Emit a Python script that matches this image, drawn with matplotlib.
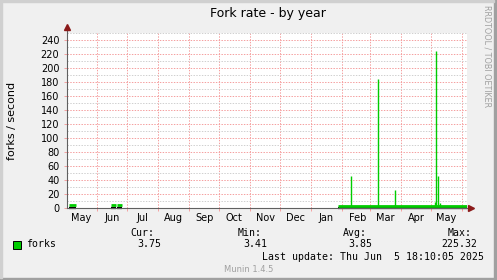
import matplotlib
matplotlib.use("Agg")
import matplotlib.pyplot as plt
import matplotlib.dates as mdates
from matplotlib.patches import Rectangle
from matplotlib.ticker import MultipleLocator, NullFormatter
import pandas as pd

# ---- data ----
x_start = "2024-05-01 18:10:05"
x_end = "2025-06-05 18:10:05"
seg_start = ["2024-05-04 00:00", "2024-06-15 00:00", "2024-06-21 00:00", "2025-01-28 00:00"]
seg_end = ["2024-05-11 00:00", "2024-06-20 00:00", "2024-06-26 00:00", "2025-06-05 18:00"]
seg_value = [4.5, 4.5, 4.5, 3.9]
spike_dates = ["2025-02-10 06:00", "2025-03-09 06:00", "2025-03-25 12:00",
               "2025-05-05 06:00", "2025-05-06 06:00", "2025-05-07 12:00",
               "2025-05-10 06:00"]
spike_values = [46, 185, 26, 9, 225.32, 46, 7]
y_ticks = list(range(0, 241, 20))
legend_name = "forks"
stat_names = ["Cur:", "Min:", "Avg:", "Max:"]
stat_values = ["3.75", "3.41", "3.85", "225.32"]
title = "Fork rate - by year"
ylabel = "forks / second"
last_update = "Last update: Thu Jun  5 18:10:05 2025"
footer = "Munin 1.4.5"
watermark = "RRDTOOL / TOBI OETIKER"

GREEN = "#00cc00"
MAJ = "#f5a0a0"
MIN = "#d0d0d0"
AX = "#606060"
ARROW = "#8b1a1a"

W, H = 497, 280
fig = plt.figure(figsize=(W / 100, H / 100), dpi=100)
fig.patch.set_facecolor("#f0f0f0")

L, T, R, B = 67, 33.3, 467, 208.3
ax = fig.add_axes([L / W, 1 - B / H, (R - L) / W, (B - T) / H])
ax.set_facecolor("white")

xs = pd.to_datetime(seg_start, format="%Y-%m-%d %H:%M")
xe = pd.to_datetime(seg_end, format="%Y-%m-%d %H:%M")
sd = pd.to_datetime(spike_dates, format="%Y-%m-%d %H:%M")

# grid
ax.set_xlim(pd.Timestamp(x_start), pd.Timestamp(x_end))
ax.set_ylim(0, 250)
ax.yaxis.set_major_locator(MultipleLocator(20))
ax.yaxis.set_minor_locator(MultipleLocator(10))
ax.set_yticks(y_ticks)
ax.xaxis.set_major_locator(mdates.MonthLocator())
ax.xaxis.set_major_formatter(NullFormatter())
ax.xaxis.set_minor_locator(mdates.MonthLocator(bymonthday=16))
ax.xaxis.set_minor_formatter(mdates.DateFormatter("%b"))

ax.grid(True, which="major", axis="both", color=MAJ, linestyle=(0, (1.4, 1.4)), linewidth=0.72, zorder=0)
ax.grid(True, which="minor", axis="y", color=MIN, linestyle=(0, (1.4, 1.4)), linewidth=0.72, zorder=0)
ax.set_axisbelow(True)

ax.tick_params(axis="y", which="major", length=2, width=0.7, color=MAJ, pad=3.5, labelsize=7)
ax.tick_params(axis="y", which="minor", length=0)
ax.tick_params(axis="x", which="major", length=2, width=0.7, color=MAJ)
ax.tick_params(axis="x", which="minor", length=0, pad=3.5, labelsize=7)

for s in ["top", "right", "left", "bottom"]:
    ax.spines[s].set_visible(False)

# data
ax.hlines([0] * len(seg_start), xs, xe, color="black", linewidth=1.6, zorder=3, clip_on=False)
ax.hlines(seg_value, xs, xe, color=GREEN, linewidth=2.0, zorder=4)
ax.vlines(sd, [seg_value[-1]] * len(sd), spike_values, color=GREEN, linewidth=1.0, zorder=4)

# axes lines with arrows
ax.plot([0, 0], [0, 1 + 5 / 175], transform=ax.transAxes, color=AX, lw=0.8, clip_on=False, zorder=5)
ax.plot([0, 1 + 2 / 400], [0, 0], transform=ax.transAxes, color=AX, lw=0.8, clip_on=False, zorder=5)
ax.plot([0], [1 + 6 / 175], marker="^", markersize=4, color=ARROW, transform=ax.transAxes, clip_on=False, zorder=6)
ax.plot([1 + 4 / 400], [0], marker=">", markersize=4, color=ARROW, transform=ax.transAxes, clip_on=False, zorder=6)

def ftxt(x, y, s, **kw):
    fig.text(x / W, 1 - y / H, s, **kw)

ftxt(267.5, 14, title, ha="center", va="center", fontsize=9, family="DejaVu Sans")
ftxt(12, 120.5, ylabel, ha="center", va="center", rotation=90, fontsize=8, family="DejaVu Sans")
ftxt(487, 5, watermark, ha="center", va="top", rotation=-90, fontsize=5.8, color="#a0a0a0", family="DejaVu Sans")

mono = dict(family="DejaVu Sans Mono", fontsize=7.1, va="center")
fig.patches.append(Rectangle((13 / W, 1 - 248.7 / H), 8 / W, 8 / H, transform=fig.transFigure,
                             facecolor=GREEN, edgecolor="black", linewidth=0.7))
ftxt(26, 244.3, legend_name, **mono)
name_x = [130.5, 237.2, 342.8, 447.2]
val_x = [137.2, 242.8, 347.8, 441.2]
for nx, n in zip(name_x, stat_names):
    ftxt(nx, 232.7, n, **mono)
for vx, v in zip(val_x, stat_values):
    ftxt(vx, 244.3, v, **mono)
ftxt(483.5, 256.7, last_update, ha="right", family="DejaVu Sans Mono", fontsize=7.1, va="center")
ftxt(249, 269.3, footer, ha="center", va="center", fontsize=6, color="#a0a0a0", family="DejaVu Sans")

# frame border
fig.patches.append(Rectangle((0, 0), 1, 2 / H, transform=fig.transFigure, color="#a0a0a0", zorder=10))
fig.patches.append(Rectangle((1 - 3 / W, 0), 3 / W, 1, transform=fig.transFigure, color="#a0a0a0", zorder=10))
fig.patches.append(Rectangle((0, 1 - 2 / H), 1 - 3 / W, 2 / H, transform=fig.transFigure, color="#d0d0d0", zorder=10))
fig.patches.append(Rectangle((0, 2 / H), 2 / W, 1 - 4 / H, transform=fig.transFigure, color="#d0d0d0", zorder=10))

fig.savefig("out.png", dpi=100, facecolor=fig.get_facecolor())
